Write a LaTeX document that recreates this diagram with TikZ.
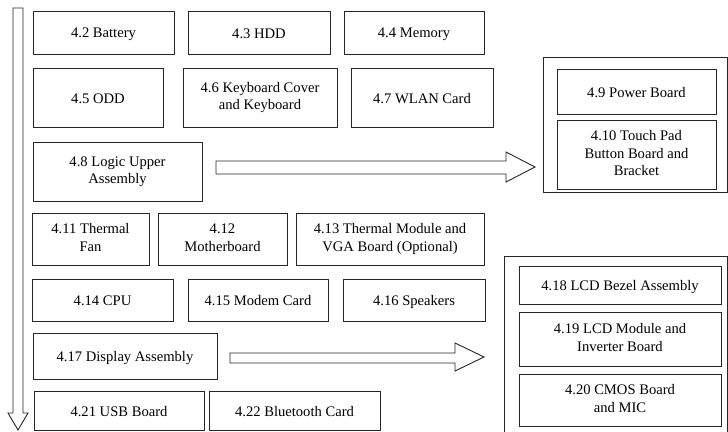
\documentclass[tikz,border=0pt]{standalone}
\usepackage{fontspec}
\setmainfont{Liberation Serif}
\begin{document}
\begin{tikzpicture}[x=1pt,y=-1pt,
  box/.style={draw=black!85,line width=0.9pt,align=center,inner sep=1pt,
    font=\fontsize{14.6}{17.5}\selectfont,
    execute at begin node={\rule{0pt}{14pt}},
    execute at end node={\rule[-3pt]{0pt}{3pt}}},
  grp/.style={draw=black!85,line width=1pt},
  barrow/.style={draw=black!85,line width=0.9pt,fill=white}]
\useasboundingbox (0,0) rectangle (728,431);
\clip (0,0) rectangle (728,431);
% vertical arrow
\draw[barrow] (13,8) -- (23,8) -- (23,413) -- (28,413) -- (18,430) -- (8,413) -- (13,413) -- cycle;
% row 1
\node[box,minimum width=141,minimum height=43] (b42) at (103.5,32.5) {4.2 Battery};
\node[box,minimum width=142,minimum height=43] (b43) at (259,32.5) {4.3 HDD};
\node[box,minimum width=140,minimum height=43] (b44) at (414,32.5) {4.4 Memory};
% row 2
\node[box,minimum width=130,minimum height=59] (b45) at (98,97.5) {4.5 ODD};
\node[box,minimum width=154,minimum height=59] (b46) at (260,97.5) {4.6 Keyboard Cover\\and Keyboard};
\node[box,minimum width=142,minimum height=59] (b47) at (422,97.5) {4.7 WLAN Card};
% row 3
\node[box,minimum width=169,minimum height=59] (b48) at (117.5,171.5) {4.8 Logic Upper\\Assembly};
% group 1
\draw[grp] (543,57) rectangle (727,192);
\node[box,minimum width=159,minimum height=45] (b49) at (636.5,91.5) {4.9 Power Board};
\node[box,minimum width=159,minimum height=69] (b410) at (636.5,154.5) {4.10 Touch Pad\\Button Board and\\Bracket};
% arrow 1
\draw[barrow] (216,161) -- (506,161) -- (506,152) -- (535,167) -- (506,182) -- (506,174) -- (216,174) -- cycle;
% row 4
\node[box,minimum width=117,minimum height=52] (b411) at (90.5,239) {4.11 Thermal\\Fan};
\node[box,minimum width=129,minimum height=52] (b412) at (222.5,239) {4.12\\Motherboard};
\node[box,minimum width=188,minimum height=52] (b413) at (390,239) {4.13 Thermal Module and\\VGA Board (Optional)};
% row 5
\node[box,minimum width=141,minimum height=42] (b414) at (102.5,300) {4.14 CPU};
\node[box,minimum width=140,minimum height=42] (b415) at (258,300) {4.15 Modem Card};
\node[box,minimum width=142,minimum height=42] (b416) at (414,300) {4.16 Speakers};
% row 6
\node[box,minimum width=184,minimum height=46] (b417) at (125,356) {4.17 Display Assembly};
% arrow 2
\draw[barrow] (230,353) -- (455,353) -- (455,343) -- (484,357) -- (455,371) -- (455,363) -- (230,363) -- cycle;
% group 2
\draw[grp] (504,256) rectangle (727,445);
\node[box,minimum width=202,minimum height=38] (b418) at (620,285) {4.18 LCD Bezel Assembly};
\node[box,minimum width=202,minimum height=54] (b419) at (620,339) {4.19 LCD Module and\\Inverter Board};
\node[box,minimum width=202,minimum height=52] (b420) at (620,400) {4.20 CMOS Board\\and MIC};
% row 7
\node[box,minimum width=170,minimum height=39] (b421) at (119,410.5) {4.21 USB Board};
\node[box,minimum width=171,minimum height=39] (b422) at (294.5,410.5) {4.22 Bluetooth Card};
\end{tikzpicture}
\end{document}
